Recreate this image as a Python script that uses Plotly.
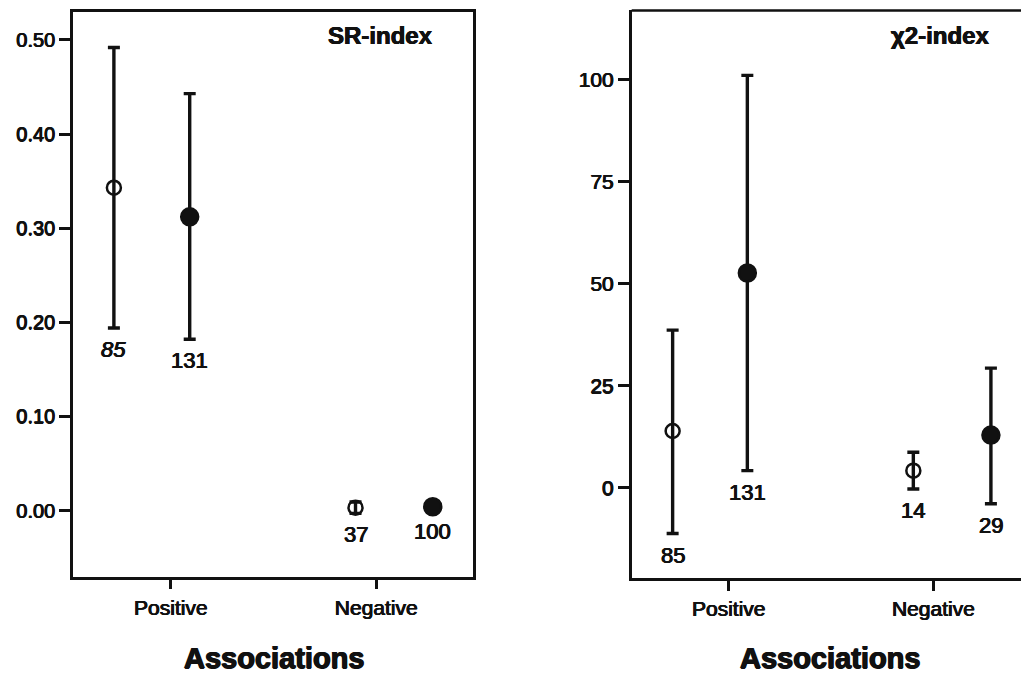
import plotly.graph_objects as go

# Category axis: two association types
categories = ["Positive", "Negative"]

# Series order in each panel: open (group A) at Positive, filled (group B) at Positive,
# open at Negative, filled at Negative
series_filled = [False, True, False, True]
series_cat = [0, 0, 1, 1]

# SR-index: means and confidence limits
sr_mean = [0.343, 0.312, 0.003, 0.004]
sr_upper = [0.492, 0.443, 0.009, 0.007]
sr_lower = [0.194, 0.182, -0.003, 0.001]
sr_n = ["85", "131", "37", "100"]

# chi2-index: means and confidence limits
chi_mean = [13.9, 52.6, 4.2, 12.9]
chi_upper = [38.6, 101.0, 8.7, 29.3]
chi_lower = [-11.2, 4.2, -0.3, -3.9]
chi_n = ["85", "131", "14", "29"]

# Horizontal placement of each series around its category tick
sr_offset = [-0.277, 0.092, -0.101, 0.275]
chi_offset = [-0.274, 0.091, -0.098, 0.281]

FONT = "Liberation Sans, Arial, sans-serif"
INK = "#111111"
# slight stroke to give the heavy, printed look of the lettering
HEAVY = "0.45px 0 0 #111111, -0.45px 0 0 #111111, 0 0.45px 0 #111111"
HEAVIER = "0.7px 0 0 #111111, -0.7px 0 0 #111111, 0 0.5px 0 #111111"

fig = go.Figure()


def add_panel(means, upper, lower, counts, offsets, xa, ya, italic_first):
    xs = [series_cat[i] + 1 + offsets[i] for i in range(len(means))]
    for filled in (False, True):
        idx = [i for i in range(len(means)) if series_filled[i] == filled]
        fig.add_trace(go.Scatter(
            x=[xs[i] for i in idx],
            y=[means[i] for i in idx],
            mode="markers",
            xaxis=xa, yaxis=ya,
            showlegend=False,
            marker=dict(
                symbol="circle" if filled else "circle-open",
                size=17 if filled else 14,
                color=INK,
                line=dict(width=2.5, color=INK),
            ),
            error_y=dict(
                type="data", symmetric=False,
                array=[upper[i] - means[i] for i in idx],
                arrayminus=[means[i] - lower[i] for i in idx],
                color=INK, thickness=3.4, width=6,
            ),
        ))
    for i in range(len(means)):
        fig.add_annotation(
            x=xs[i], y=lower[i], xref=xa, yref=ya,
            text=counts[i], showarrow=False,
            xanchor="center", yanchor="top", yshift=-7,
            font=dict(family=FONT, size=22, color=INK, shadow=HEAVY,
                      style="italic" if (italic_first and i == 0) else "normal"),
        )


add_panel(sr_mean, sr_upper, sr_lower, sr_n, sr_offset, "x", "y", True)
add_panel(chi_mean, chi_upper, chi_lower, chi_n, chi_offset, "x2", "y2", False)

axis_common = dict(
    showgrid=False, zeroline=False,
    showline=True, linecolor=INK, linewidth=2.5,
    ticks="outside", tickcolor=INK, tickwidth=2.5,
)

fig.update_layout(
    width=1021, height=677,
    margin=dict(l=0, r=0, t=0, b=0),
    paper_bgcolor="white", plot_bgcolor="white",
    font=dict(family=FONT, color=INK),
    xaxis=dict(
        domain=[0.0715, 0.4633], range=[0.524, 2.471],
        tickvals=[1, 2], ticktext=categories, ticklen=10,
        tickfont=dict(size=21, shadow=HEAVY), mirror=True, anchor="y", **axis_common,
    ),
    yaxis=dict(
        domain=[0.1482, 0.9827], range=[-0.0703, 0.530],
        tickvals=[0, 0.1, 0.2, 0.3, 0.4, 0.5], tickformat=".2f", ticklen=11,
        tickfont=dict(size=20, shadow=HEAVY), mirror=True, anchor="x", **axis_common,
    ),
    xaxis2=dict(
        domain=[0.6187, 1.0], range=[0.526, 2.428],
        tickvals=[1, 2], ticktext=categories, ticklen=10,
        tickfont=dict(size=21, shadow=HEAVY), anchor="y2", **axis_common,
    ),
    yaxis2=dict(
        domain=[0.1462, 0.9846], range=[-22.1, 116.9],
        tickvals=[0, 25, 50, 75, 100], ticklen=11,
        tickfont=dict(size=21, shadow=HEAVY), anchor="x2", **axis_common,
    ),
)

# Top border of the right panel, running off the page edge
fig.add_shape(type="line", xref="paper", yref="paper",
              x0=0.6187, x1=1.05, y0=0.9846, y1=0.9846,
              line=dict(color=INK, width=2.5))

# Panel titles
fig.add_annotation(x=0.373, y=0.948, xref="paper", yref="paper",
                   xanchor="center", yanchor="middle",
                   text="<b>SR-index</b>", showarrow=False,
                   font=dict(family=FONT, size=24, color=INK, shadow=HEAVY))
fig.add_annotation(x=0.9207, y=0.948, xref="paper", yref="paper",
                   xanchor="center", yanchor="middle",
                   text="<b>χ2-index</b>", showarrow=False,
                   font=dict(family=FONT, size=24, color=INK, shadow=HEAVY))

# Shared x-axis title under each panel
for xc in (0.2684, 0.8137):
    fig.add_annotation(x=xc, y=0.028, xref="paper", yref="paper",
                       xanchor="center", yanchor="middle",
                       text="<b>Associations</b>", showarrow=False,
                       font=dict(family=FONT, size=29, color=INK, shadow=HEAVIER))

fig.write_html("out.html")
